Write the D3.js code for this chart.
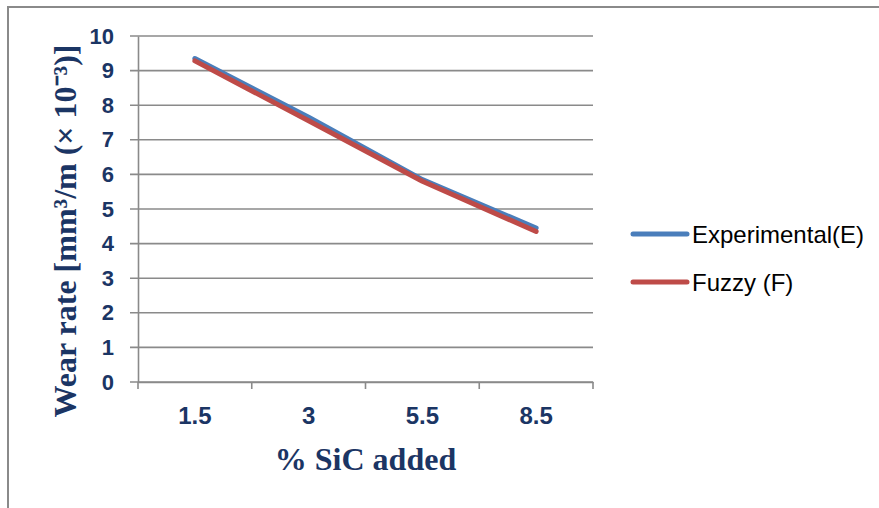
<!DOCTYPE html>
<html>
<head>
<meta charset="utf-8">
<script src="https://cdn.jsdelivr.net/npm/d3@7"></script>
<style>
  html, body { margin: 0; padding: 0; background: #fff; }
  svg { display: block; }
</style>
</head>
<body>
<svg id="chart" width="879" height="508"></svg>
<script>
const categories = ["1.5", "3", "5.5", "8.5"];
const experimental = [9.35, 7.65, 5.85, 4.45];
const fuzzy = [9.28, 7.55, 5.80, 4.35];
const yTicks = [0, 1, 2, 3, 4, 5, 6, 7, 8, 9, 10];
const seriesNames = ["Experimental(E)", "Fuzzy (F)"];

const W = 879, H = 508;
const margin = { left: 138, right: W - 593, top: 36, bottom: H - 382 };
const svg = d3.select("#chart");
const navy = "#1b3564";
const grid = "#8a8a8a";

// outer frame
svg.append("path")
  .attr("d", `M8,${H + 5} L8,7 L${W + 5},7`)
  .attr("fill", "none").attr("stroke", grid).attr("stroke-width", 2);

const x = d3.scaleBand().domain(categories).range([margin.left, W - margin.right]).padding(0);
const y = d3.scaleLinear().domain([0, 10]).range([H - margin.bottom, margin.top]);

// gridlines
svg.append("g").selectAll("line").data(yTicks).join("line")
  .attr("x1", margin.left - 8).attr("x2", W - margin.right)
  .attr("y1", d => y(d)).attr("y2", d => y(d))
  .attr("stroke", grid).attr("stroke-width", 1.6);

// y axis
const yAxis = svg.append("g").attr("transform", `translate(${margin.left},0)`)
  .call(d3.axisLeft(y).tickValues(yTicks).tickSize(0).tickPadding(24).tickFormat(d3.format("d")));
yAxis.select(".domain").attr("stroke", grid).attr("stroke-width", 1.6);
yAxis.selectAll("text")
  .attr("fill", navy)
  .style("font-family", "'Liberation Sans', Arial, sans-serif")
  .style("font-weight", "bold").style("font-size", "22px");

// x axis
const xAxis = svg.append("g").attr("transform", `translate(0,${y(0)})`)
  .call(d3.axisBottom(x).tickSize(0).tickPadding(25));
xAxis.select(".domain").attr("stroke", grid).attr("stroke-width", 1.6);
const bounds = [margin.left].concat(categories.map(c => x(c) + x.bandwidth()));
svg.append("g").selectAll("line").data(bounds).join("line")
  .attr("x1", d => d).attr("x2", d => d)
  .attr("y1", y(0)).attr("y2", y(0) + 7)
  .attr("stroke", grid).attr("stroke-width", 1.6);
xAxis.selectAll("text")
  .attr("fill", navy)
  .style("font-family", "'Liberation Sans', Arial, sans-serif")
  .style("font-weight", "bold").style("font-size", "24px");

// lines
const line = d3.line()
  .x((d, i) => x(categories[i]) + x.bandwidth() / 2)
  .y(d => y(d));
const colors = ["#4a7ebb", "#be4b48"];
[experimental, fuzzy].forEach((s, i) => {
  svg.append("path").datum(s)
    .attr("d", line)
    .attr("fill", "none")
    .attr("stroke", colors[i])
    .attr("stroke-width", 5)
    .attr("stroke-linecap", "round")
    .attr("stroke-linejoin", "round");
});

// axis titles
svg.append("text")
  .attr("transform", `translate(76,${231}) rotate(-90)`)
  .attr("text-anchor", "middle")
  .attr("fill", navy)
  .style("font-family", "'Liberation Serif', 'Times New Roman', serif")
  .style("font-weight", "bold").style("font-size", "32px")
  .text("Wear rate [mm³/m (× 10⁻³)]");

svg.append("text")
  .attr("x", (margin.left + W - margin.right) / 2)
  .attr("y", 470)
  .attr("text-anchor", "middle")
  .attr("fill", navy)
  .style("font-family", "'Liberation Serif', 'Times New Roman', serif")
  .style("font-weight", "bold").style("font-size", "32px")
  .text("% SiC added");

// legend
const legend = svg.append("g");
const ly = [234, 282];
seriesNames.forEach((n, i) => {
  legend.append("line")
    .attr("x1", 633).attr("x2", 687)
    .attr("y1", ly[i]).attr("y2", ly[i])
    .attr("stroke", colors[i]).attr("stroke-width", 5)
    .attr("stroke-linecap", "round");
  legend.append("text")
    .attr("x", 692).attr("y", ly[i] + 9)
    .attr("fill", "#000")
    .style("font-family", "'Liberation Sans', Arial, sans-serif")
    .style("font-size", "24px")
    .text(n);
});
</script>
</body>
</html>
